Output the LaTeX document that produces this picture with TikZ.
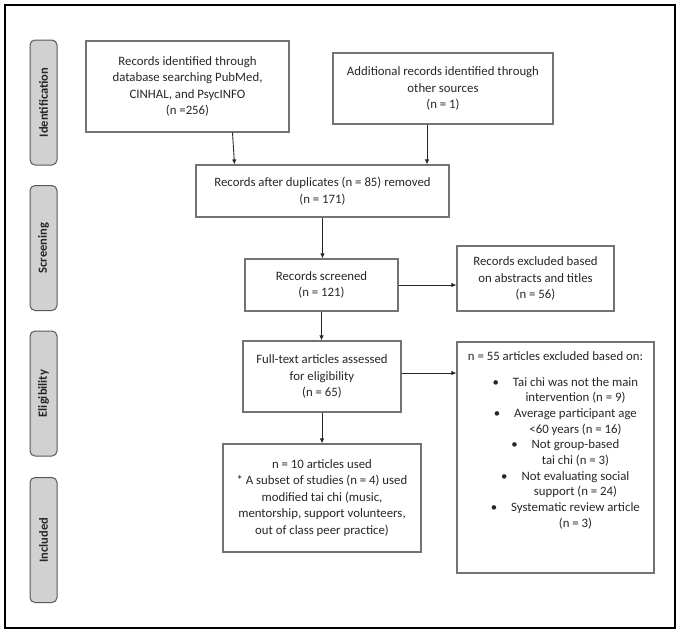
\documentclass[tikz,border=0pt]{standalone}
\usepackage{fontspec}
\setmainfont{Carlito}
\usetikzlibrary{positioning,arrows.meta}
\tikzset{
  boxbase/.style={rectangle, draw=black!55, line width=1.1pt, text=black!85,
                  inner sep=2pt, font=\fontsize{12.8}{16.5}\selectfont},
  box/.style={boxbase, align=center},
  stage/.style={rectangle, rounded corners=5pt, draw=black!65, fill=black!18, line width=1pt,
                rotate=90, minimum width=125pt, minimum height=27pt, text=black!85,
                font=\bfseries\fontsize{12.5}{14}\selectfont},
  fwd/.style={-{Latex[length=5pt,width=4.5pt]}, line width=0.9pt, black!85},
  frame/.style={line width=2.5pt},
}
% bulleted line, list centred right of the box centre
\newcommand{\litem}[2]{\hspace*{40pt}\llap{\textbullet\hspace{14pt}}#1\\\hspace*{40pt}#2}

\begin{document}
\begin{tikzpicture}[x=1pt,y=-1pt]
  \useasboundingbox (0,0) rectangle (680,633);
  \draw[frame] (5,5) rectangle (675,628);

  % phases
  \node[stage] (stIdent) at (43.5,102.5) {Identification};
  \node[stage] (stScreen) at (43.5,248) {Screening};
  \node[stage] (stElig) at (43.5,393.5) {Eligibility};
  \node[stage] (stIncl) at (43.5,540) {Included};

  % boxes
  \node[box, minimum width=203pt, minimum height=91pt] (ident) at (187.5,86.5)
    {Records identified through\\database searching PubMed,\\CINHAL, and PsycINFO\\(n =256)};
  \node[box, minimum width=220pt, minimum height=71pt] (extra) at (443,88.5)
    {Additional records identified through\\other sources\\(n = 1)};
  \node[box, minimum width=253pt, minimum height=52pt] (dedup) at (322.5,191)
    {Records after duplicates (n = 85) removed\\(n = 171)};
  \node[box, minimum width=153pt, minimum height=52pt] (screened) at (321.5,285)
    {Records screened\\(n = 121)};
  \node[box, minimum width=157pt, minimum height=65pt] (excl) at (535.5,278.5)
    {Records excluded based\\on abstracts and titles\\(n = 56)};
  \node[box, minimum width=158pt, minimum height=71pt] (fulltext) at (322,376.5)
    {Full-text articles assessed\\for eligibility\\(n = 65)};
  \node[boxbase, minimum width=197pt, minimum height=231pt, inner sep=0pt] (exclft) at (555.5,457.5)
    {\parbox[c][212pt][t]{195pt}{\centering\fontsize{12.8}{15.7}\selectfont
      n = 55 articles excluded based on:\\[10pt]
      \litem{Tai chi was not the main}{intervention (n = 9)}\\
      \litem{Average participant age}{<60 years (n = 16)}\\
      \litem{Not group-based}{tai chi (n = 3)}\\
      \litem{Not evaluating social}{support (n = 24)}\\
      \litem{Systematic review article}{(n = 3)}\par}};
  \node[box, minimum width=198pt, minimum height=108pt] (incl) at (322,498)
    {n = 10 articles used\\* A subset of studies (n = 4) used\\modified tai chi (music,\\mentorship, support volunteers,\\out of class peer practice)};

  % connectors
  \draw[fwd] ([xshift=45pt]ident.south) -- ([xshift=-88pt]dedup.north);
  \draw[fwd] ([xshift=-16pt]extra.south) -- ([xshift=104.5pt]dedup.north);
  \draw[fwd] (dedup.south) -- (dedup.south |- screened.north);
  \draw[fwd] (screened.east) -- (screened.east -| excl.west);
  \draw[fwd] (screened.south) -- (screened.south |- fulltext.north);
  \draw[fwd] ([yshift=3.5pt]fulltext.east) -- ([yshift=3.5pt]fulltext.east -| exclft.west);
  \draw[fwd] (fulltext.south) -- (fulltext.south |- incl.north);
\end{tikzpicture}
\end{document}
